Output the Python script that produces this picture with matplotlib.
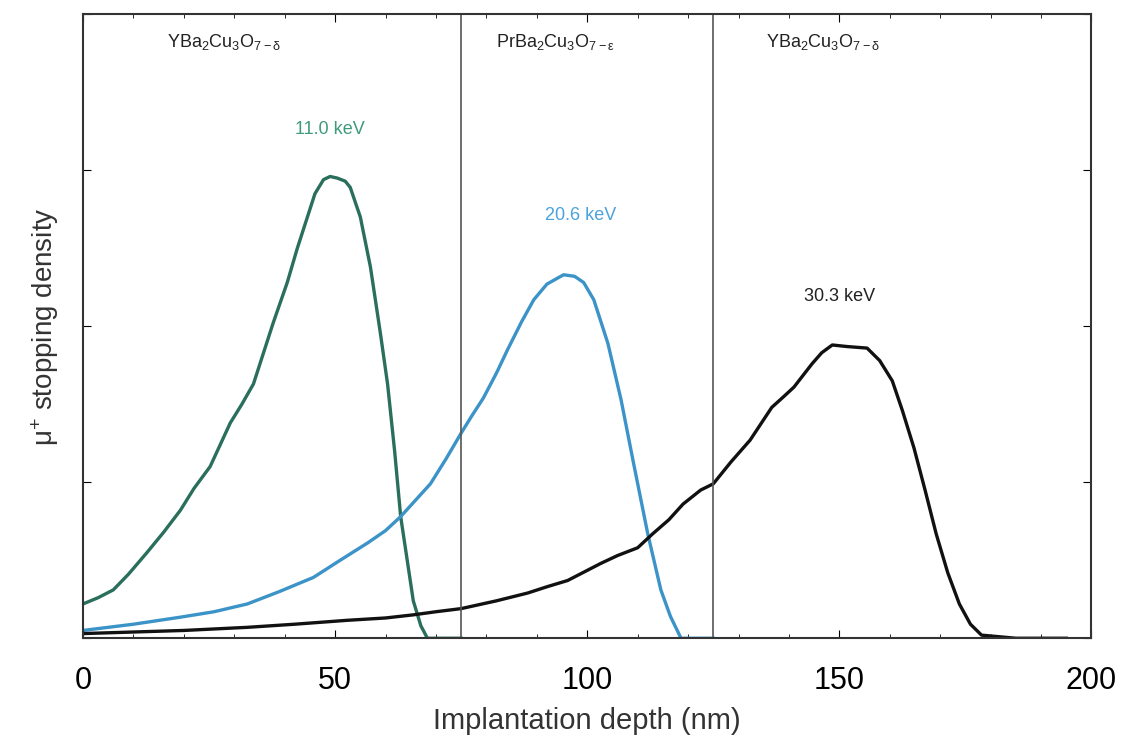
import matplotlib
matplotlib.use('Agg')
import matplotlib.pyplot as plt
from matplotlib.ticker import MultipleLocator

plt.rcParams['font.family'] = ['Liberation Sans', 'DejaVu Sans']
plt.rcParams['mathtext.default'] = 'regular'

# ── Data ──────────────────────────────────────────────────────
x_11 = [0, 3, 6, 9, 12.7, 16, 19.3, 22, 25.2, 29.2, 31.5, 33.8, 35.5, 37.7,
        40.5, 42.5, 44.5, 46, 47.7, 49, 50.4, 52, 53, 55, 57, 59, 60.4,
        61.8, 63, 65.5, 67, 68.3, 75]
y_11 = [0.22, 0.26, 0.31, 0.41, 0.55, 0.68, 0.82, 0.96, 1.10, 1.38, 1.50, 1.63,
        1.80, 2.02, 2.28, 2.50, 2.70, 2.85, 2.94, 2.96, 2.95, 2.93, 2.89, 2.70,
        2.38, 1.95, 1.63, 1.20, 0.78, 0.24, 0.08, 0.0, 0.0]

x_20 = [0, 10, 19.3, 26, 32.6, 39, 45.7, 51, 56.4, 60, 63, 68.9, 72, 74.9,
        77, 79.4, 82, 84.2, 87, 89.4, 92, 95.3, 97.5, 99.3, 101.3, 104.1,
        106.7, 109.2, 112, 114.6, 116.5, 118.6, 125]
y_20 = [0.05, 0.09, 0.135, 0.17, 0.22, 0.30, 0.39, 0.50, 0.61, 0.69, 0.78, 0.99,
        1.15, 1.31, 1.42, 1.54, 1.70, 1.85, 2.03, 2.17, 2.27, 2.33, 2.32, 2.28,
        2.17, 1.89, 1.53, 1.12, 0.67, 0.31, 0.14, 0.0, 0.0]

x_30 = [0, 20, 32.6, 42, 52.4, 60, 65.5, 70, 75, 82, 88.2, 92, 96.1, 102.7,
        106, 110, 113, 116.2, 119, 122.5, 125, 128.5, 132.3, 136.6, 139, 141,
        144.6, 146.5, 148.6, 151.5, 155.5, 158, 160.5, 162.5, 164.8, 167,
        169.2, 171.5, 173.8, 176, 178.2, 185, 195]
y_30 = [0.03, 0.05, 0.07, 0.09, 0.115, 0.13, 0.15, 0.17, 0.19, 0.24, 0.29, 0.33,
        0.37, 0.48, 0.53, 0.58, 0.67, 0.76, 0.86, 0.95, 0.99, 1.13, 1.27, 1.48,
        1.55, 1.61, 1.76, 1.83, 1.88, 1.87, 1.86, 1.78, 1.65, 1.46, 1.22, 0.95,
        0.67, 0.42, 0.22, 0.09, 0.02, 0.0, 0.0]

boundaries = [75, 125]
layer_names = [r'YBa$_2$Cu$_3$O$_{7-\delta}$', r'PrBa$_2$Cu$_3$O$_{7-\epsilon}$',
               r'YBa$_2$Cu$_3$O$_{7-\delta}$']
layer_x = [28, 93.7, 146.8]

energies = ['11.0 keV', '20.6 keV', '30.3 keV']
energy_x = [49, 98.7, 150]
energy_y = [3.26, 2.71, 2.19]

# ── Plot ──────────────────────────────────────────────────────
fig = plt.figure(figsize=(11.28, 7.5), dpi=100)
ax = fig.add_axes([0.0736, 0.149, 0.894, 0.832])

line_colors = ['#2a6e5c', '#3b93c8', '#111111']
text_colors = ['#3f9a7c', '#4aa3dc', '#222222']

for xs, ys, c in zip([x_11, x_20, x_30], [y_11, y_20, y_30], line_colors):
    ax.plot(xs, ys, color=c, linewidth=2.4, solid_joinstyle='round')

for b in boundaries:
    ax.axvline(b, color='#555555', linewidth=1.2)

for name, xp in zip(layer_names, layer_x):
    ax.text(xp, 3.82, name, ha='center', va='center', fontsize=13, color='#222222')

for lab, xp, yp, c in zip(energies, energy_x, energy_y, text_colors):
    ax.text(xp, yp, lab, ha='center', va='center', fontsize=13, color=c)

ax.set_xlim(0, 200)
ax.set_ylim(0, 4)
ax.xaxis.set_major_locator(MultipleLocator(50))
ax.xaxis.set_minor_locator(MultipleLocator(10))
ax.yaxis.set_major_locator(MultipleLocator(1))
ax.set_yticklabels([])
ax.tick_params(which='both', direction='in', top=True, right=True)
ax.tick_params(axis='x', labelsize=22, pad=20)
ax.tick_params(which='major', length=6)
ax.tick_params(which='minor', length=3)
for s in ax.spines.values():
    s.set_linewidth(1.5)
    s.set_color('#333333')

ax.set_xlabel('Implantation depth (nm)', fontsize=21, labelpad=8, color='#333333')
ax.set_ylabel(r'$\mu^{+}$ stopping density', fontsize=20, labelpad=12, color='#333333')

plt.savefig('out.png', dpi=100)
plt.close()
